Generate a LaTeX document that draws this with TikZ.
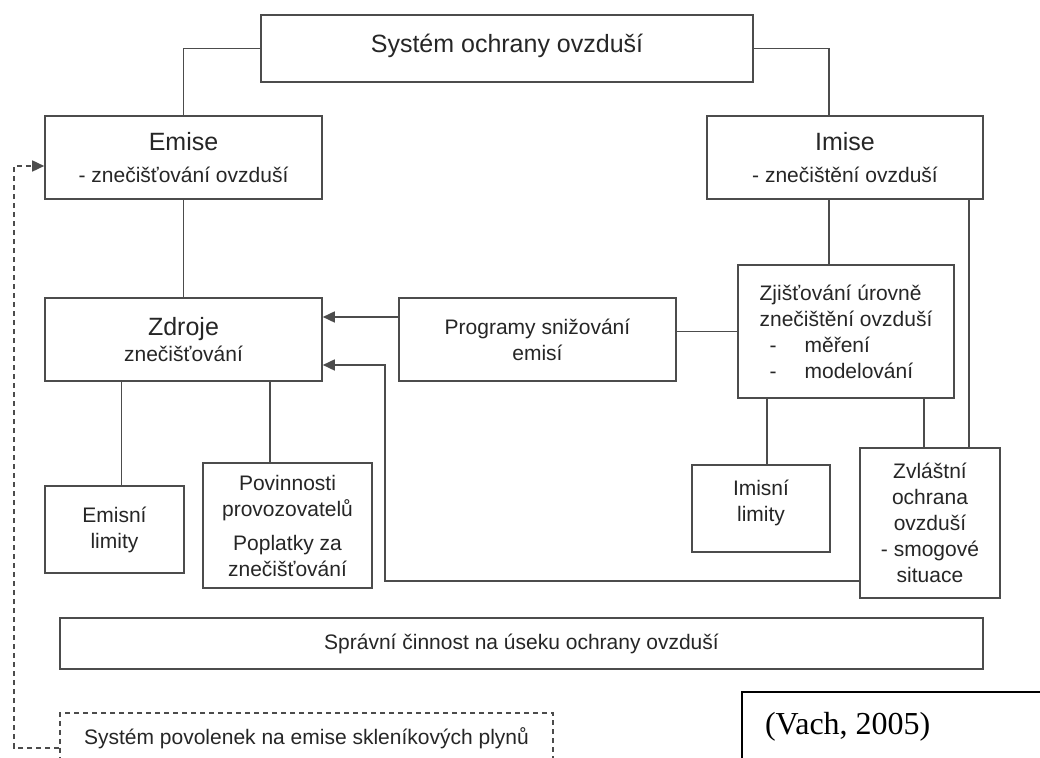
\documentclass[tikz,border=0pt]{standalone}
\usepackage{fontspec}
\setmainfont{Liberation Sans}
\newfontfamily\timesfont{Liberation Serif}
\usetikzlibrary{arrows.meta}

\begin{document}
\begin{tikzpicture}[
    x=0.5pt, y=-0.5pt,
    box/.style={draw=black!70, line width=0.8pt, align=center, inner sep=2pt, text=black!85, font=\fontsize{10.5}{13}\selectfont},
    dbox/.style={box, dash pattern=on 2.5pt off 2pt},
    link/.style={draw=black!70, line width=0.8pt},
    arr/.style={link, -{Triangle[length=6pt,width=5.5pt]}},
    darr/.style={arr, dash pattern=on 2.5pt off 2pt}
]
\clip (0,0) rectangle (1040,758);
\fill[white] (0,0) rectangle (1040,758);

\node[box, minimum width=246pt, minimum height=33.5pt, font=\fontsize{12.5}{15}\selectfont, text depth=5pt] (sys) at (507,48.5) {Systém ochrany ovzduší};
\node[box, minimum width=138.5pt, minimum height=41.5pt] (emise) at (183.5,157.5) {{\fontsize{12.5}{15}\selectfont Emise}\\[3pt]- znečišťování ovzduší};
\node[box, minimum width=138pt, minimum height=41.5pt] (imise) at (845,157.5) {{\fontsize{12.5}{15}\selectfont Imise}\\[3pt]- znečištění ovzduší};
\node[box, minimum width=138.5pt, minimum height=41.5pt] (zdroje) at (183.5,339.5) {{\fontsize{12.5}{15}\selectfont Zdroje}\\znečišťování};
\node[box, minimum width=138.5pt, minimum height=41.5pt] (prog) at (537.5,339.5) {Programy snižování\\emisí};
\node[box, minimum width=108pt, minimum height=66.5pt, align=left] (zjist) at (846,331.5) {Zjišťování úrovně\\znečištění ovzduší\\\makebox[22.5pt][l]{\hspace*{5pt}-}měření\\\makebox[22.5pt][l]{\hspace*{5pt}-}modelování};
\node[box, minimum width=69.5pt, minimum height=43.5pt] (emlim) at (114.5,529.5) {Emisní\\limity};
\node[box, minimum width=84.5pt, minimum height=62.5pt] (pov) at (287.5,525.5) {Povinnosti\\provozovatelů\\[4pt]Poplatky za\\znečišťování};
\node[box, minimum width=69pt, minimum height=43.5pt, text depth=8pt] (imlim) at (761,508.5) {Imisní\\limity};
\node[box, minimum width=70pt, minimum height=75pt] (zvl) at (930,523) {Zvláštní\\ochrana\\ovzduší\\- smogové\\situace};
\node[box, minimum width=461.5pt, minimum height=25.5pt] (sprav) at (521.5,643.5) {Správní činnost na úseku ochrany ovzduší};
\node[dbox, minimum width=246.5pt, minimum height=25pt] (povol) at (306.5,738) {Systém povolenek na emise skleníkových plynů};
\node[draw=black, line width=1pt, minimum width=159pt, minimum height=54pt] (vach) at (901,746) {};
\node[anchor=west, font=\timesfont\fontsize{16}{19}\selectfont] (vachtxt) at (758,727) {(Vach, 2005)};

\coordinate (imL) at ([xshift=-8pt]imise.south);
\coordinate (imR) at ([xshift=-7.5pt]imise.south east);
\coordinate (zjL) at ([xshift=15pt]zjist.south west);
\coordinate (zjR) at ([xshift=-15.5pt]zjist.south east);
\coordinate (zdA) at ([xshift=3.5pt]emlim.north);
\coordinate (zdB) at ([xshift=-8.75pt]pov.north);
\coordinate (progA) at ([yshift=11.25pt]prog.west);
\coordinate (bend) at (385,365);
\coordinate (loop) at (14,748);

\draw[link] (sys.west) -| (emise.north);
\draw[link] (sys.east) -| ([xshift=-8pt]imise.north);
\draw[link] (emise.south) -- (zdroje.north);
\draw[link] (imL) -- (imL |- zjist.north);
\draw[link] (imR) -- (imR |- zvl.north);
\draw[link] (zjist.west) -- (zjist.west -| prog.east);
\draw[link] (zjL) -- (zjL |- imlim.north);
\draw[link] (zjR) -- (zjR |- zvl.north);
\draw[link] (zdA) -- (zdA |- zdroje.south);
\draw[link] (zdB) -- (zdB |- zdroje.south);
\draw[arr] (progA) -- (progA -| zdroje.east);
\draw[arr] ([yshift=-29pt]zvl.west) -| (bend) -- (bend -| zdroje.east);
\draw[darr] ([yshift=-5pt]povol.west) -- (loop) |- ([yshift=-4.25pt]emise.west);
\end{tikzpicture}
\end{document}
